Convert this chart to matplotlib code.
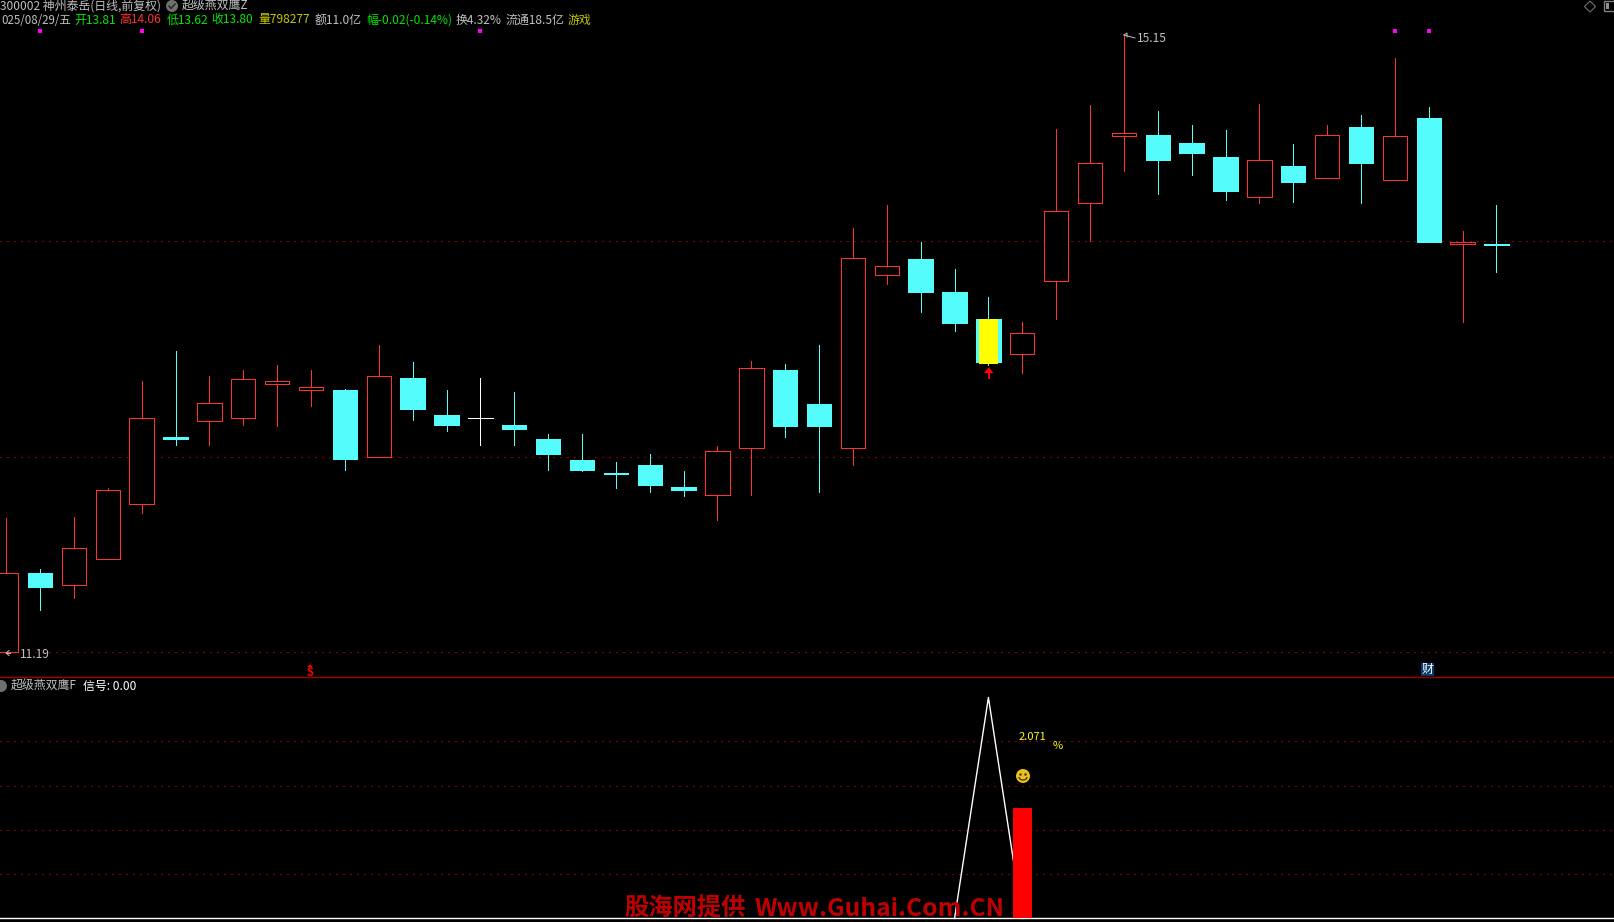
import matplotlib
matplotlib.use('Agg')
import matplotlib.pyplot as plt
from matplotlib.patches import Arc, Circle, Rectangle, Polygon

plt.rcParams['font.family'] = ['Noto Sans CJK SC', 'DejaVu Sans']

# daily candles
open_ = [11.19, 11.70, 11.62, 11.79, 12.14, 12.57, 12.67, 12.69, 12.91, 12.87, 12.87, 12.44, 12.95, 12.71, 12.69,
         12.65, 12.56, 12.42, 12.34, 12.39, 12.25, 12.20, 12.50, 13.00, 12.78, 12.50, 13.61, 13.71, 13.50, 13.33,
         13.10, 13.57, 14.07, 14.50, 14.51, 14.46, 14.37, 14.11, 14.31, 14.23, 14.56, 14.22, 14.62, 13.81, 13.81]
high = [12.05, 11.72, 12.06, 12.24, 12.93, 13.12, 12.96, 13.00, 13.03, 13.00, 12.88, 13.16, 13.05, 12.87, 12.95,
        12.86, 12.59, 12.59, 12.41, 12.46, 12.35, 12.51, 13.06, 13.04, 13.16, 13.91, 14.06, 13.82, 13.65, 13.47,
        13.31, 14.55, 14.70, 15.15, 14.66, 14.57, 14.54, 14.71, 14.45, 14.57, 14.64, 15.00, 14.69, 13.89, 14.06]
low = [11.19, 11.46, 11.54, 11.79, 12.08, 12.52, 12.52, 12.65, 12.64, 12.77, 12.36, 12.44, 12.68, 12.61, 12.52,
       12.52, 12.36, 12.35, 12.24, 12.22, 12.19, 12.04, 12.20, 12.57, 12.22, 12.39, 13.55, 13.37, 13.25, 13.03,
       12.98, 13.33, 13.83, 14.28, 14.13, 14.25, 14.09, 14.07, 14.08, 14.23, 14.07, 14.22, 13.82, 13.31, 13.63]
close = [11.70, 11.61, 11.86, 12.23, 12.69, 12.56, 12.79, 12.94, 12.93, 12.89, 12.43, 12.96, 12.75, 12.65, 12.69,
         12.62, 12.46, 12.36, 12.33, 12.26, 12.23, 12.48, 13.01, 12.64, 12.64, 13.72, 13.67, 13.50, 13.30, 13.05,
         13.24, 14.02, 14.33, 14.52, 14.35, 14.39, 14.15, 14.35, 14.21, 14.51, 14.33, 14.50, 13.82, 13.82, 13.80]

grid_price = [13.826, 12.44, 11.19]
dot_days = [1, 4, 14, 41, 42]
dot_price = 15.175
flag_day = 29
flag_top = 13.33
flag_bottom = 13.04

# lower pane
signal_day = 29
signal_value = 2.071
bar_day = 30
bar_value = 1.04
grid_lower = [0.42, 0.83, 1.245, 1.66]

RED = '#ff3232'
CYAN = '#54fcfc'
GRID = '#8c0000'
GREY = '#c0c0c0'
GREEN = '#00e600'
YEL = '#c8c800'
W, H = 1615, 922
SPLIT = 677

fig = plt.figure(figsize=(W / 100, H / 100), dpi=100, facecolor='black')
ax = fig.add_axes([0, 1 - SPLIT / H, 1, SPLIT / H], facecolor='black')
ax2 = fig.add_axes([0, 0, 1, 1 - SPLIT / H], facecolor='black')
# overlay in pixels for the labels
top = fig.add_axes([0, 0, 1, 1], facecolor='none')
top.set_xlim(0, W)
top.set_ylim(H, 0)
for a in (ax, ax2, top):
    a.axis('off')

ax.set_xlim(-0.183, 47.5)
ax.set_ylim(11.03, 15.375)
ax2.set_xlim(-0.183, 47.5)
ax2.set_ylim(-0.033, 2.263)

for g in grid_price:
    ax.axhline(g, color=GRID, lw=0.72, dashes=(1.5, 5.5), antialiased=False, zorder=1)
for g in grid_lower:
    ax2.axhline(g, color=GRID, lw=0.72, dashes=(1.5, 5.5), antialiased=False, zorder=1)

width = 0.72
for i in range(len(open_)):
    if close[i] > open_[i]:
        c = RED
    elif close[i] < open_[i]:
        c = CYAN
    else:
        c = 'white'
    ax.vlines(i, low[i], high[i], color=c, lw=0.72, antialiased=False, zorder=2)
    if c == RED:
        ax.bar(i, close[i] - open_[i], width, bottom=open_[i], facecolor='black', edgecolor=c, lw=0.72,
               antialiased=False, zorder=3)
    elif c == CYAN:
        ax.bar(i, close[i] - open_[i], width, bottom=open_[i], facecolor=c, edgecolor=c, lw=0.72,
               antialiased=False, zorder=3)
    else:
        ax.hlines(close[i], i - width / 2, i + width / 2, color=c, lw=0.72, antialiased=False, zorder=3)

ax.bar(flag_day, flag_top - flag_bottom, 0.56, bottom=flag_bottom, color='#ffff00', zorder=4)
ax.scatter(dot_days, [dot_price] * len(dot_days), marker='s', s=5, color='#ff00ff', linewidths=0, zorder=4)

# lower pane
ax2.axhline(0, color='white', lw=1.0, zorder=2)
ax2.plot([signal_day - 1, signal_day, signal_day + 1], [0, signal_value, 0], color='white', lw=1.0, zorder=2)
ax2.bar(bar_day, bar_value, 0.56, color='#ff0000', zorder=3)

top.axhline(SPLIT, color='#a00000', lw=1.0)

# header rows
row1 = 6.5
row2 = 20
top.text(0, row1, '300002 神州泰岳(日线,前复权)', color=GREY, fontsize=8.6, va='center')
top.add_patch(Circle((172, 6), 6, color='#707070', lw=0))
top.plot([169, 171, 175], [6, 8.5, 4], color='#222222', lw=1)
top.text(182, row1, '超级燕双鹰Z', color=GREY, fontsize=8.6, va='center')

segs = [(1, '025/08/29/五', GREY), (74, '开13.81', GREEN), (119, '高14.06', RED), (167, '低13.62', GREEN),
        (211, '收13.80', GREEN), (258, '量798277', YEL), (315, '额11.0亿', GREY),
        (366, '幅-0.02(-0.14%)', GREEN), (456, '换4.32%', GREY), (506, '流通18.5亿', GREY), (568, '游戏', YEL)]
for x, s, c in segs:
    top.text(x, row2, s, color=c, fontsize=8.6 if x > 1 else 8.3, va='center')

# window buttons
top.add_patch(Polygon([(1590, 1), (1595.5, 6.5), (1590, 12), (1584.5, 6.5)], fill=False, ec='#707070', lw=0.8))
top.add_patch(Rectangle((1604, 1), 11, 10.5, fill=False, ec='#808080', lw=1.0))
top.add_patch(Rectangle((1606, 3), 3, 6.5, color='#909090', lw=0))

# hi / lo labels
top.text(1137, 38, '15.15', color=GREY, fontsize=8.6, va='center')
top.plot([1124, 1135], [35, 38], color=GREY, lw=0.7)
top.plot([1124, 1127, 1127], [35, 33, 37], color=GREY, lw=0.7)
top.text(20, 654.5, '11.19', color=GREY, fontsize=8.6, va='center')
top.plot([6, 10], [653, 653], color=GREY, lw=0.7)
top.plot([9, 6, 9], [650.5, 653, 655.5], color=GREY, lw=0.7)

# S mark and the blue box above the split line
top.text(310, 672, 'S', color='#ff0000', fontsize=8, fontweight='bold', ha='center', va='center')
top.add_patch(Polygon([(307, 667), (310, 664.5), (313, 667)], color='#ff0000', lw=0))
top.add_patch(Rectangle((1421, 663), 13, 13, color='#0a3a6e', lw=0))
top.text(1427.5, 669.5, '财', color='white', fontsize=8.6, ha='center', va='center')

# arrow under the yellow bar
top.add_patch(Polygon([(984, 373), (988.7, 367), (993.5, 373)], color='#ff0000', lw=0))
top.add_patch(Rectangle((987.7, 372), 2, 7, color='#ff0000', lw=0))

# lower pane labels
top.add_patch(Circle((1, 686), 6, color='#707070', lw=0))
top.text(11, 686, '超级燕双鹰F', color=GREY, fontsize=8.6, va='center')
top.text(83, 686, '信号: 0.00', color='white', fontsize=8.6, va='center')
top.text(1019, 737, '2.071', color='#ffff00', fontsize=8, va='center')
top.text(1053, 746, '%', color='#ffff00', fontsize=8, va='center')

# smiley
top.add_patch(Circle((1023, 776), 7, color='#e8c020', lw=0))
top.scatter([1020.5, 1025.5], [774, 774], s=3, color='#403000', linewidths=0)
top.add_patch(Arc((1023, 777), 8, 6, theta1=0, theta2=180, color='#403000', lw=0.9))

top.text(624, 909, '股海网提供', color='#c00000', fontsize=17.5, fontweight='bold', va='center')
top.text(755, 909, 'Www.Guhai.Com.CN', color='#c00000', fontsize=17.7, fontweight='bold', va='center')

fig.savefig('out.png', dpi=100, facecolor='black')
